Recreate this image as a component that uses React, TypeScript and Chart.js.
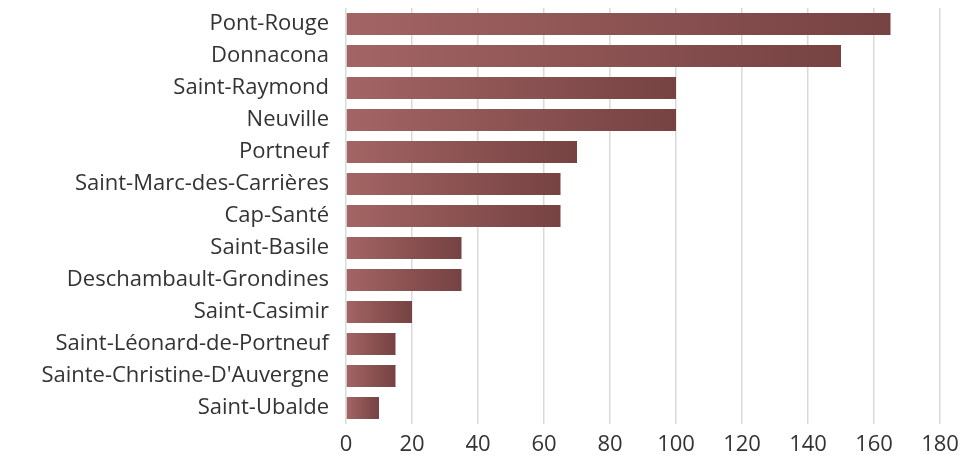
import React, { useEffect, useRef } from "react";
import { Chart, registerables } from "chart.js";

Chart.register(...registerables);

const categories = [
  "Pont-Rouge",
  "Donnacona",
  "Saint-Raymond",
  "Neuville",
  "Portneuf",
  "Saint-Marc-des-Carrières",
  "Cap-Santé",
  "Saint-Basile",
  "Deschambault-Grondines",
  "Saint-Casimir",
  "Saint-Léonard-de-Portneuf",
  "Sainte-Christine-D'Auvergne",
  "Saint-Ubalde",
];
const values = [165, 150, 100, 100, 70, 65, 65, 35, 35, 20, 15, 15, 10];
const xTicks = [0, 20, 40, 60, 80, 100, 120, 140, 160, 180];

const gradientPlugin = {
  id: "barGradient",
  beforeDatasetsDraw(chart: any) {
    const ctx = chart.ctx;
    const meta = chart.getDatasetMeta(0);
    meta.data.forEach((el: any) => {
      const g = ctx.createLinearGradient(el.base, 0, el.x, 0);
      g.addColorStop(0, "#a36464");
      g.addColorStop(1, "#764242");
      el.options.backgroundColor = g;
    });
  },
};

export default function App() {
  const ref = useRef<HTMLCanvasElement>(null);
  useEffect(() => {
    document.body.style.margin = "0";
    const chart = new Chart(ref.current!, {
      type: "bar",
      data: {
        labels: categories,
        datasets: [
          {
            data: values,
            backgroundColor: () => "#8c5050",
            categoryPercentage: 0.69,
            barPercentage: 1,
            borderWidth: 0,
          },
        ],
      },
      plugins: [gradientPlugin],
      options: {
        indexAxis: "y",
        animation: false,
        responsive: false,
        maintainAspectRatio: false,
        layout: { padding: { top: 8, right: 0, bottom: 0, left: 0 } },
        plugins: { legend: { display: false }, tooltip: { enabled: false } },
        scales: {
          x: {
            min: 0,
            max: 180,
            afterBuildTicks: (s: any) => {
              s.ticks = xTicks.map((v) => ({ value: v }));
            },
            afterFit: (s: any) => {
              s.height = 36;
              s.paddingRight = 22;
              s.paddingLeft = 0;
            },
            grid: { color: "#d9d9d9", lineWidth: 1.5, drawTicks: false },
            border: { display: false },
            ticks: {
              padding: 8,
              color: "#333333",
              font: { family: "Open Sans", size: 22 },
            },
          },
          y: {
            afterFit: (s: any) => {
              s.width = 346;
              s.paddingTop = 0;
              s.paddingBottom = 0;
            },
            grid: { display: false, drawTicks: false },
            border: { display: false },
            ticks: {
              padding: 17,
              color: "#333333",
              font: { family: "Open Sans", size: 22 },
            },
          },
        },
      },
    });
    return () => chart.destroy();
  }, []);
  return <canvas ref={ref} width={962} height={460} style={{ display: "block" }} />;
}
